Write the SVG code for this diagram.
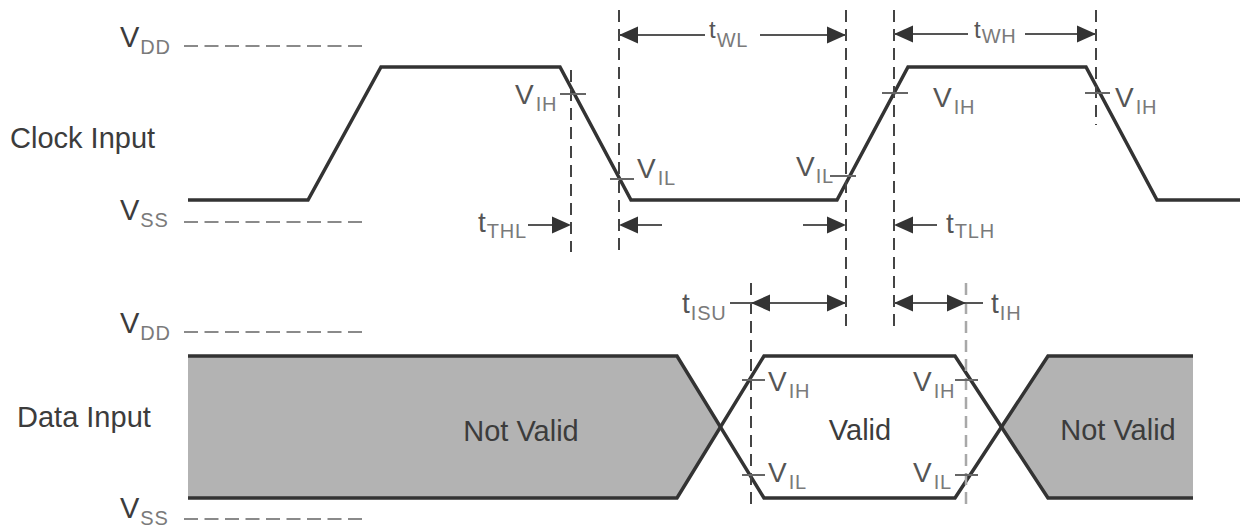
<svg xmlns="http://www.w3.org/2000/svg" width="1243" height="530" viewBox="0 0 1243 530">
<style>
text{font-family:"Liberation Sans",Arial,sans-serif;}
.lbl{font-size:29px;fill:#3c3c3c;}
.v{font-size:28px;fill:#555;}
.t{font-size:28px;fill:#555;}
.ts{font-size:24px;fill:#555;}
.sub{font-size:20px;fill:#7a7a7a;letter-spacing:0.8px;}
.ref{stroke:#8a8a8a;stroke-width:2;stroke-dasharray:14 6.5;fill:none;}
.vd{stroke:#444;stroke-width:2;stroke-dasharray:12 7;fill:none;}
.vdl{stroke:#a8a8a8;stroke-width:2.5;stroke-dasharray:12 7;fill:none;}
.wave{stroke:#333;stroke-width:3.5;fill:none;stroke-linejoin:miter;}
.fill{fill:#b3b3b3;stroke:none;}
.tick{stroke:#666;stroke-width:2;}
.shaft{stroke:#555;stroke-width:2;fill:none;}
.head{fill:#333;}
</style>
<defs>
<polygon id="ar" points="0,0 -19,-8.5 -19,8.5"/>
<polygon id="al" points="0,0 19,-8.5 19,8.5"/>
</defs>

<g id="clock-labels">
<text class="lbl" x="120" y="47">V<tspan class="sub" dx="1" dy="7">DD</tspan></text>
<text class="lbl" x="120" y="220">V<tspan class="sub" dx="1" dy="7">SS</tspan></text>
<text class="lbl" x="10" y="148">Clock Input</text>
<line class="ref" x1="184" y1="46" x2="368" y2="46"/>
<line class="ref" x1="184" y1="222" x2="368" y2="222"/>
</g>

<g id="data-labels">
<text class="lbl" x="120" y="333">V<tspan class="sub" dx="1" dy="7">DD</tspan></text>
<text class="lbl" x="120" y="518">V<tspan class="sub" dx="1" dy="7">SS</tspan></text>
<text class="lbl" x="17" y="427">Data Input</text>
<line class="ref" x1="184" y1="332" x2="368" y2="332"/>
<line class="ref" x1="184" y1="519" x2="368" y2="519"/>
</g>

<g id="clock-wave">
<path class="wave" d="M188,200 L308,200 L381,67 L560,67 L631,200 L837,200 L908,67 L1086,67 L1157,200 L1240,200"/>
</g>

<g id="data-wave">
<polygon class="fill" points="188,356 677,356 720.5,427 677,498 188,498"/>
<polygon class="fill" points="1001.5,427 1048,356 1193,356 1193,498 1048,498"/>
<path class="wave" d="M188,356 L677,356 L764,498 L955,498 L1048,356 L1193,356"/>
<path class="wave" d="M188,498 L677,498 L764,356 L955,356 L1048,498 L1193,498"/>
<text class="lbl" x="521" y="441" text-anchor="middle">Not Valid</text>
<text class="lbl" x="860" y="440" text-anchor="middle">Valid</text>
<text class="lbl" x="1118" y="440" text-anchor="middle">Not Valid</text>
</g>

<g id="connectors">
<line class="vd" x1="571" y1="70" x2="571" y2="252"/>
<line class="vd" x1="619" y1="10" x2="619" y2="252"/>
<line class="vd" x1="846" y1="10" x2="846" y2="332"/>
<line class="vd" x1="894" y1="10" x2="894" y2="332"/>
<line class="vd" x1="1096" y1="10" x2="1096" y2="125"/>
<line class="vd" x1="751" y1="283" x2="751" y2="505"/>
<line class="vdl" x1="966" y1="283" x2="966" y2="505"/>

<line class="shaft" x1="619" y1="35" x2="705" y2="35"/>
<line class="shaft" x1="760" y1="35" x2="846" y2="35"/>
<use href="#al" class="head" x="619" y="35"/>
<use href="#ar" class="head" x="846" y="35"/>

<line class="shaft" x1="894" y1="34" x2="968" y2="34"/>
<line class="shaft" x1="1025" y1="34" x2="1096" y2="34"/>
<use href="#al" class="head" x="894" y="34"/>
<use href="#ar" class="head" x="1096" y="34"/>

<line class="shaft" x1="528" y1="225" x2="565" y2="225"/>
<use href="#ar" class="head" x="571" y="225"/>
<line class="shaft" x1="625" y1="225" x2="662" y2="225"/>
<use href="#al" class="head" x="619" y="225"/>
<line class="shaft" x1="803" y1="225" x2="840" y2="225"/>
<use href="#ar" class="head" x="846" y="225"/>
<line class="shaft" x1="900" y1="225" x2="937" y2="225"/>
<use href="#al" class="head" x="894" y="225"/>

<line class="shaft" x1="730" y1="303" x2="846" y2="303"/>
<use href="#al" class="head" x="751" y="303"/>
<use href="#ar" class="head" x="846" y="303"/>
<line class="shaft" x1="894" y1="303" x2="983" y2="303"/>
<use href="#al" class="head" x="894" y="303"/>
<use href="#ar" class="head" x="966" y="303"/>

<line class="tick" x1="560" y1="94" x2="586" y2="94"/>
<line class="tick" x1="610" y1="179" x2="634" y2="179"/>
<line class="tick" x1="830" y1="176" x2="856" y2="176"/>
<line class="tick" x1="882" y1="93" x2="908" y2="93"/>
<line class="tick" x1="1085" y1="93" x2="1110" y2="93"/>
<line class="tick" x1="742" y1="380" x2="765" y2="380"/>
<line class="tick" x1="742" y1="475" x2="765" y2="475"/>
<line class="tick" x1="955" y1="380" x2="978" y2="380"/>
<line class="tick" x1="955" y1="475" x2="978" y2="475"/>
</g>

<g id="timing-labels">
<text class="ts" x="709" y="38">t<tspan class="sub" dx="1" dy="9">WL</tspan></text>
<text class="ts" x="974" y="38">t<tspan class="sub" dx="1" dy="5">WH</tspan></text>
<text class="t" x="478" y="232">t<tspan class="sub" dx="1" dy="6">THL</tspan></text>
<text class="t" x="946" y="233">t<tspan class="sub" dx="1" dy="5">TLH</tspan></text>
<text class="t" x="682" y="313">t<tspan class="sub" dx="1" dy="7">ISU</tspan></text>
<text class="t" x="991" y="313">t<tspan class="sub" dx="1" dy="7">IH</tspan></text>
</g>

<g id="level-labels">
<text class="v" x="515" y="104">V<tspan class="sub" dx="2" dy="7">IH</tspan></text>
<text class="v" x="637" y="178">V<tspan class="sub" dx="2" dy="7">IL</tspan></text>
<text class="v" x="796" y="176">V<tspan class="sub" dx="1" dy="7">IL</tspan></text>
<text class="v" x="933" y="107">V<tspan class="sub" dx="2" dy="7">IH</tspan></text>
<text class="v" x="1115" y="107">V<tspan class="sub" dx="2" dy="7">IH</tspan></text>
<text class="v" x="768" y="391">V<tspan class="sub" dx="2" dy="7">IH</tspan></text>
<text class="v" x="768" y="482">V<tspan class="sub" dx="2" dy="7">IL</tspan></text>
<text class="v" x="913" y="391">V<tspan class="sub" dx="2" dy="7">IH</tspan></text>
<text class="v" x="913" y="482">V<tspan class="sub" dx="2" dy="7">IL</tspan></text>
</g>
</svg>
